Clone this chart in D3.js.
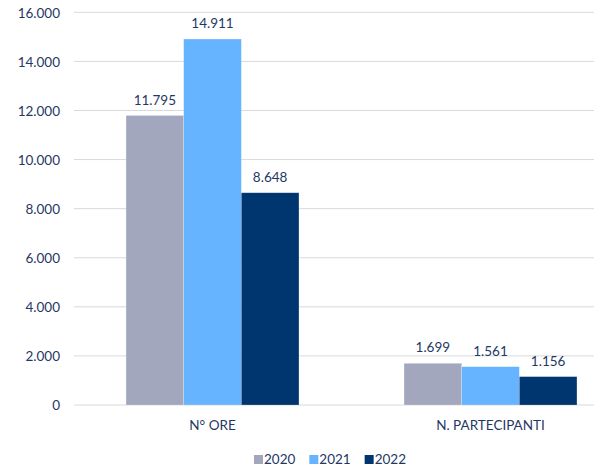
<!DOCTYPE html>
<html><head><meta charset="utf-8">
<script src="https://cdn.jsdelivr.net/npm/d3@7"></script>
<style>body{margin:0;background:#fff}svg{display:block}text{font-family:Lato,"Open Sans",sans-serif;fill:#1f3864}</style>
</head><body><svg id="c" width="595" height="468"></svg>
<script>
const categories = ["N° ORE", "N. PARTECIPANTI"];
const series = ["2020", "2021", "2022"];
const values2020 = [11795, 1699];
const values2021 = [14911, 1561];
const values2022 = [8648, 1156];
const yTicks = [0, 2000, 4000, 6000, 8000, 10000, 12000, 14000, 16000];
const colors = ["#a2a7bd", "#66b3ff", "#003670"];

const svg = d3.select("#c");
const fmt = v => d3.format(",")(v).replace(/,/g, ".");
const y = d3.scaleLinear().domain([0, 16000]).range([405, 12.3]);
const x0 = d3.scaleBand().domain(categories).range([73.5, 629.5]).paddingInner(0.378).paddingOuter(0.189);
const x1 = d3.scaleBand().domain(series).range([0, x0.bandwidth()]);
const gridX = [74, 594];

// gridlines
svg.append("g").selectAll("line").data(yTicks).join("line")
  .attr("x1", gridX[0]).attr("x2", gridX[1])
  .attr("y1", d => y(d)).attr("y2", d => y(d))
  .attr("stroke", "#d9d9d9").attr("stroke-width", 1);

// y axis labels
const yAxis = d3.axisLeft(y).tickValues(yTicks).tickFormat(fmt).tickSize(0).tickPadding(0);
const ga = svg.append("g").attr("transform", "translate(60,0)").call(yAxis);
ga.select(".domain").remove();
ga.selectAll("text").attr("font-size", 13.5).attr("font-family", "Lato").attr("fill", "#1f3864").attr("dy", "0.35em");

const data = categories.map((c, i) => ({cat: c, vals: [values2020[i], values2021[i], values2022[i]]}));
const groups = svg.append("g").selectAll("g").data(data).join("g")
  .attr("transform", d => `translate(${x0(d.cat)},0)`);
groups.selectAll("rect").data(d => d.vals.map((v, j) => ({s: series[j], v, j}))).join("rect")
  .attr("x", d => x1(d.s)).attr("width", x1.bandwidth())
  .attr("y", d => y(d.v)).attr("height", d => y(0) - y(d.v))
  .attr("fill", d => colors[d.j]).attr("stroke", "#ffffff").attr("stroke-opacity", 0.35).attr("stroke-width", 0.6);
groups.selectAll("text.val").data(d => d.vals.map((v, j) => ({s: series[j], v, j}))).join("text")
  .attr("class", "val")
  .attr("x", d => x1(d.s) + x1.bandwidth() / 2).attr("y", d => y(d.v) - 11)
  .attr("text-anchor", "middle").attr("font-size", 13.5).text(d => fmt(d.v));

// category labels
svg.append("g").selectAll("text").data(categories).join("text")
  .attr("x", d => x0(d) + x0.bandwidth() / 2).attr("y", 430)
  .attr("text-anchor", "middle").attr("font-size", 13.5).text(d => d);

// legend
const lg = svg.append("g");
let lx = 254;
series.forEach((s, j) => {
  lg.append("rect").attr("x", lx).attr("y", 455).attr("width", 9).attr("height", 9).attr("fill", colors[j]);
  const t = lg.append("text").attr("x", lx + 10).attr("y", 464).attr("font-size", 13.5).text(s);
  lx += 10 + t.node().getComputedTextLength() + 14;
});
</script></body></html>
